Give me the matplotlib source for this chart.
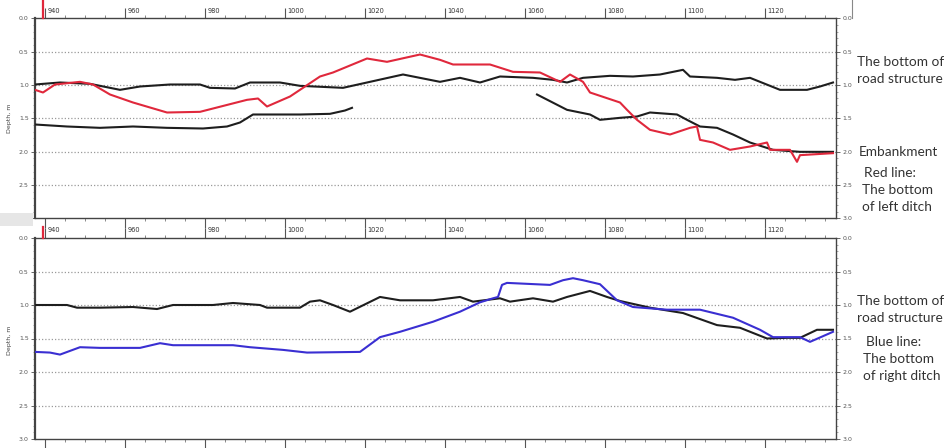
import matplotlib
matplotlib.use("Agg")
import matplotlib.pyplot as plt
from matplotlib.ticker import MultipleLocator, FixedLocator
from matplotlib.lines import Line2D
from matplotlib.patches import Rectangle
import numpy as np

# ---- Upper profile: road structure, embankment, left ditch ----
top_road_st = [937.5, 943.75, 951.25, 958.75, 963.75, 971.25, 978.75, 981.25, 987.5, 991.25,
               998.75, 1003.75, 1014.5, 1021.25, 1029.5, 1038.75, 1043.75, 1048.75, 1053.75, 1062,
               1067, 1070.5, 1074.5, 1081.25, 1087, 1093.75, 1099.5, 1101.25, 1108, 1112.5,
               1116.25, 1120, 1123.75, 1130.5, 1133.75, 1137]
top_road_d = [0.99, 0.96, 0.98, 1.07, 1.02, 0.99, 0.99, 1.04, 1.05, 0.96,
              0.96, 1.01, 1.04, 0.95, 0.84, 0.95, 0.89, 0.96, 0.87, 0.89,
              0.92, 0.96, 0.89, 0.86, 0.87, 0.84, 0.77, 0.87, 0.89, 0.92,
              0.89, 0.98, 1.07, 1.07, 1.02, 0.96]

top_ditch_st = [937.5, 939.5, 942.5, 948.75, 952, 956.25, 962, 970.5, 978.75, 990.5,
                993.25, 995.5, 1001.25, 1008.75, 1012, 1020.5, 1025.5, 1033.75, 1038.75, 1042,
                1051.25, 1057, 1063.75, 1068.75, 1071.25, 1074.5, 1076.25, 1083.75, 1085.5, 1088,
                1091.25, 1096.25, 1101.25, 1103, 1103.75, 1107, 1111.25, 1116.25, 1120.5, 1121.25,
                1126.25, 1128, 1128.75, 1137]
top_ditch_d = [1.07, 1.11, 0.99, 0.95, 0.99, 1.14, 1.26, 1.41, 1.40, 1.22,
               1.20, 1.32, 1.17, 0.87, 0.81, 0.60, 0.65, 0.54, 0.62, 0.69,
               0.69, 0.80, 0.81, 0.95, 0.84, 0.95, 1.11, 1.26, 1.37, 1.52,
               1.67, 1.74, 1.64, 1.62, 1.82, 1.86, 1.97, 1.92, 1.86, 1.97,
               1.97, 2.15, 2.05, 2.02]

top_emb_a_st = [937.5, 945.5, 953.75, 962, 970.5, 979.5, 985.5, 988.75, 992, 995.5,
                1003.75, 1011.25, 1015, 1016.75]
top_emb_a_d = [1.59, 1.62, 1.64, 1.62, 1.64, 1.65, 1.62, 1.56, 1.44, 1.44,
               1.44, 1.43, 1.38, 1.34]

top_emb_b_st = [1063, 1070.5, 1076.25, 1078.75, 1083.75, 1088, 1091.25, 1098, 1100.5, 1103.75,
                1108, 1112, 1116.25, 1122, 1128.75, 1137]
top_emb_b_d = [1.14, 1.37, 1.44, 1.52, 1.49, 1.47, 1.41, 1.44, 1.52, 1.62,
               1.64, 1.74, 1.86, 1.97, 2.00, 2.00]

# ---- Lower profile: road structure and right ditch ----
bot_road_st = [937.5, 945.5, 948, 953.75, 962, 968, 972, 982, 987, 993.75,
               995.5, 1003.75, 1006.25, 1008.75, 1012, 1016.25, 1023.75, 1028.75, 1037, 1043.75,
               1047, 1053.75, 1056.25, 1062, 1067, 1070.5, 1076.25, 1080.5, 1083.75, 1091.25,
               1099.5, 1108, 1113.75, 1120.5, 1125.5, 1128.75, 1133, 1137]
bot_road_d = [1.00, 1.00, 1.04, 1.04, 1.03, 1.06, 1.00, 1.00, 0.97, 1.00,
              1.04, 1.04, 0.95, 0.93, 1.00, 1.10, 0.88, 0.93, 0.93, 0.88,
              0.95, 0.90, 0.95, 0.90, 0.95, 0.88, 0.79, 0.88, 0.94, 1.04,
              1.12, 1.30, 1.34, 1.50, 1.49, 1.49, 1.37, 1.37]

bot_ditch_st = [937.5, 941.25, 943.75, 948.75, 953.75, 963.75, 968.75, 972, 987, 991.25,
                999.5, 1005.5, 1018.75, 1023.75, 1028.75, 1037, 1043.75, 1048.75, 1052, 1053.25,
                1054.25, 1055.5, 1066.25, 1069.5, 1072, 1074.5, 1078.75, 1083, 1087, 1095.5,
                1103.75, 1112, 1118.75, 1122, 1128.75, 1131.25, 1137]
bot_ditch_d = [1.70, 1.71, 1.74, 1.63, 1.64, 1.64, 1.57, 1.60, 1.60, 1.63,
               1.67, 1.71, 1.70, 1.48, 1.40, 1.25, 1.10, 0.96, 0.90, 0.88,
               0.70, 0.67, 0.70, 0.63, 0.60, 0.63, 0.69, 0.93, 1.03, 1.07,
               1.07, 1.19, 1.37, 1.48, 1.48, 1.55, 1.40]

x_range = (937.5, 1137.75)
depth_ticks = [0.0, 0.5, 1.0, 1.5, 2.0, 2.5, 3.0]
station_major = [940, 960, 980, 1000, 1020, 1040, 1060, 1080, 1100, 1120]
cursor_station = 939.5

BLACK = "#1e1e1e"
RED = "#e0283c"
BLUE = "#3a2fd2"
TICK_COLOR = "#555555"

W, H = 945, 448
fig = plt.figure(figsize=(W / 100, H / 100), dpi=100)
fig.patch.set_facecolor("white")

def frac_rect(left, top, right, bottom):
    return [left / W, 1 - bottom / H, (right - left) / W, (bottom - top) / H]

ax_top = fig.add_axes(frac_rect(35, 18.5, 836, 218.5))
ax_bot = fig.add_axes(frac_rect(35, 238, 836, 439))

# light strip of the window background between the two panels
fig.patches.append(Rectangle((0, 1 - 226 / H), 33 / W, 13 / H, transform=fig.transFigure,
                             facecolor="#e6e6e6", edgecolor="none", zorder=0))


def style_panel(ax, cursor_len_px):
    ax.set_xlim(*x_range)
    ax.set_ylim(3.0, 0.0)
    ax.set_facecolor("white")
    for side in ["left", "right", "top", "bottom"]:
        ax.spines[side].set_color("#444444")
        ax.spines[side].set_linewidth(1.0)
    ax.spines["left"].set_linewidth(1.6)

    ax.xaxis.set_major_locator(FixedLocator(station_major))
    ax.xaxis.set_minor_locator(MultipleLocator(5))
    ax.tick_params(axis="x", which="major", top=True, bottom=True, labeltop=False,
                   labelbottom=False, direction="out", length=7, width=0.8, color="#555555")
    ax.tick_params(axis="x", which="minor", top=True, bottom=True, direction="out",
                   length=2.5, width=0.6, color="#777777")

    ax.yaxis.set_major_locator(FixedLocator(depth_ticks))
    ax.yaxis.set_minor_locator(MultipleLocator(0.1))
    ax.set_yticklabels([f"{v:.1f}" for v in depth_ticks])
    ax.tick_params(axis="y", which="major", left=True, right=True, labelleft=True,
                   labelright=True, direction="out", length=3, width=0.7,
                   color="#666666", labelsize=4.5, labelcolor=TICK_COLOR, pad=1.5)
    ax.tick_params(axis="y", which="minor", left=True, right=True, direction="out",
                   length=1.5, width=0.5, color="#888888")

    # station labels sit just to the right of each major tick above the frame
    for st in station_major:
        ax.annotate(f"{st}", xy=(st, 1.0), xycoords=("data", "axes fraction"),
                    xytext=(2, 5.5), textcoords="offset points", ha="left", va="center",
                    fontsize=4.8, color="#333333", annotation_clip=False)

    # horizontal dotted grid
    for v in depth_ticks[1:-1]:
        ax.axhline(v, color="#9a9a9a", lw=0.9, ls=(0, (1, 1.6)), zorder=1)

    # red position cursor above the frame
    h = ax.get_position().height * H
    ax.add_line(Line2D([cursor_station, cursor_station], [1.0, 1.0 + cursor_len_px / h],
                       transform=ax.get_xaxis_transform(), color=RED, lw=1.6,
                       clip_on=False, zorder=5))


style_panel(ax_top, 18)
style_panel(ax_bot, 11)

lw = 1.5
ax_top.plot(top_road_st, top_road_d, color=BLACK, lw=lw, zorder=3)
ax_top.plot(top_emb_a_st, top_emb_a_d, color=BLACK, lw=lw, zorder=3)
ax_top.plot(top_emb_b_st, top_emb_b_d, color=BLACK, lw=lw, zorder=3)
ax_top.plot(top_ditch_st, top_ditch_d, color=RED, lw=lw, zorder=4)

ax_bot.plot(bot_road_st, bot_road_d, color=BLACK, lw=lw, zorder=3)
ax_bot.plot(bot_ditch_st, bot_ditch_d, color=BLUE, lw=lw, zorder=4)

# axis titles
fig.text(9 / W, 1 - 118 / H, "Depth, m", rotation=90, fontsize=4.5, color="#444444",
         ha="center", va="center")
fig.text(9 / W, 1 - 340 / H, "Depth, m", rotation=90, fontsize=4.5, color="#444444",
         ha="center", va="center")

# ruler end mark at the upper right
fig.add_artist(Line2D([852 / W, 852 / W], [1 - 0 / H, 1 - 18 / H], transform=fig.transFigure,
                      color="#888888", lw=0.8))

# annotations beside the panels
note_kw = dict(fontsize=9.8, color="#333333", family=["Lato", "DejaVu Sans"],
               ha="left", va="center")
notes = [
    (857, 62, "The bottom of"),
    (857, 79, "road structure"),
    (859, 152, "Embankment"),
    (864, 173, "Red line:"),
    (862, 190, "The bottom"),
    (862, 207, "of left ditch"),
    (857, 301, "The bottom of"),
    (857, 318, "road structure"),
    (866, 342, "Blue line:"),
    (863, 359, "The bottom"),
    (863, 376, "of right ditch"),
]
for x, y, s in notes:
    fig.text(x / W, 1 - y / H, s, **note_kw)

fig.savefig("out.png", dpi=100, facecolor="white")
